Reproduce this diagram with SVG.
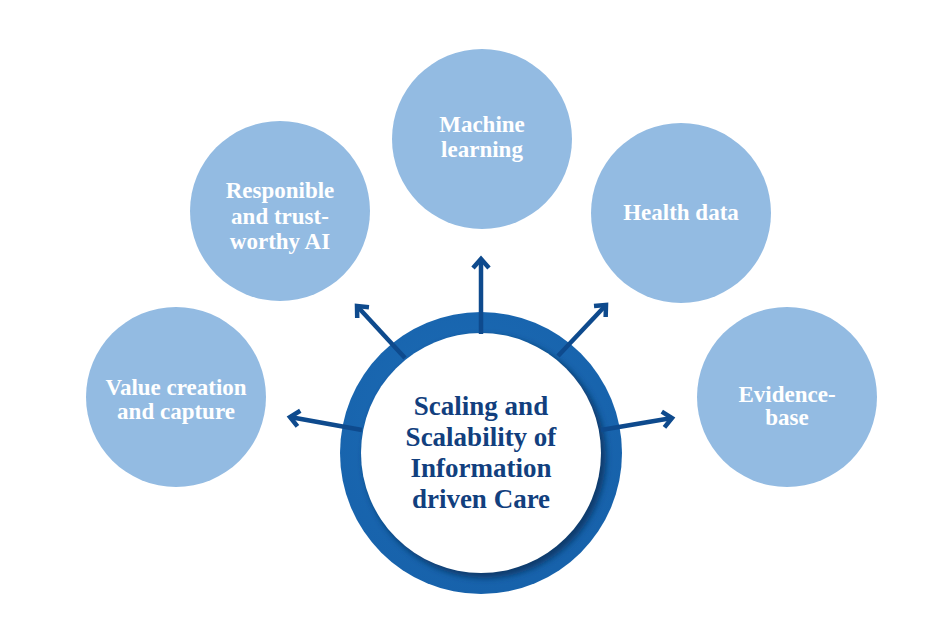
<svg xmlns="http://www.w3.org/2000/svg" width="949" height="633" viewBox="0 0 949 633">
<defs>
<style>
.bub{fill:#93bbe2}
.lbl{font-family:"Liberation Serif","DejaVu Serif",serif;font-weight:bold;font-size:23px;fill:#ffffff;text-anchor:middle}
.ctr{font-family:"Liberation Serif","DejaVu Serif",serif;font-weight:bold;font-size:27px;fill:#123f7e;text-anchor:middle}
.arr{stroke:#0e4a8d;stroke-width:4.5;fill:none;marker-end:url(#head)}
</style>
<marker id="head" markerUnits="userSpaceOnUse" markerWidth="30" markerHeight="30" viewBox="-15 -15 30 30" refX="0" refY="0" orient="auto" overflow="visible">
<path d="M-9,-8 L0,0 L-9,8" fill="none" stroke="#0e4a8d" stroke-width="4.5" stroke-linejoin="miter"/>
</marker>
<filter id="blur" x="-20%" y="-20%" width="140%" height="140%">
<feGaussianBlur stdDeviation="3"/>
</filter>
<radialGradient id="ringg" cx="0.45" cy="0.4" r="0.6">
<stop offset="0" stop-color="#1c6cb6"/>
<stop offset="1" stop-color="#1762ab"/>
</radialGradient>
</defs>
<rect width="949" height="633" fill="#ffffff"/>

<g id="node-value">
<circle class="bub" cx="176" cy="397" r="90"/>
<text class="lbl" x="176" y="395">Value creation</text>
<text class="lbl" x="176" y="419">and capture</text>
</g>
<g id="node-responsible">
<circle class="bub" cx="280" cy="211" r="90"/>
<text class="lbl" x="280" y="198">Responible</text>
<text class="lbl" x="280" y="224">and trust-</text>
<text class="lbl" x="280" y="249">worthy AI</text>
</g>
<g id="node-ml">
<circle class="bub" cx="482" cy="139" r="90"/>
<text class="lbl" x="482" y="132">Machine</text>
<text class="lbl" x="482" y="157">learning</text>
</g>
<g id="node-health">
<circle class="bub" cx="681" cy="213" r="90"/>
<text class="lbl" x="681" y="220">Health data</text>
</g>
<g id="node-evidence">
<circle class="bub" cx="787" cy="397" r="90"/>
<text class="lbl" x="787" y="402">Evidence-</text>
<text class="lbl" x="787" y="425">base</text>
</g>

<g id="node-center">
<circle cx="481" cy="453" r="141" fill="url(#ringg)"/>
<circle cx="485" cy="457" r="121" fill="#0a3a6c" filter="url(#blur)"/>
<circle cx="481" cy="453" r="120" fill="#ffffff"/>
</g>

<g id="connectors">
<line class="arr" x1="481" y1="334" x2="481" y2="259"/>
<line class="arr" x1="405" y1="358" x2="357" y2="306"/>
<line class="arr" x1="558" y1="356" x2="606" y2="305"/>
<line class="arr" x1="362" y1="430" x2="290" y2="417"/>
<line class="arr" x1="601" y1="430" x2="672" y2="418"/>
</g>

<g id="center-label">
<text class="ctr" x="481" y="415">Scaling and</text>
<text class="ctr" x="481" y="446">Scalability of</text>
<text class="ctr" x="481" y="477">Information</text>
<text class="ctr" x="481" y="508">driven Care</text>
</g>
</svg>
